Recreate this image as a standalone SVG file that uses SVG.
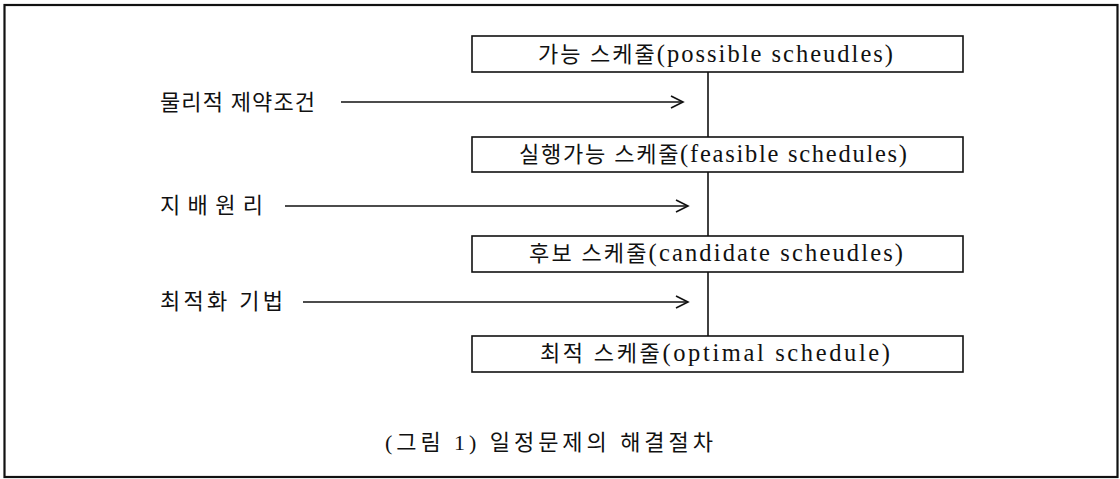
<svg xmlns="http://www.w3.org/2000/svg" width="1120" height="479" viewBox="0 0 1120 479">
<style>
.frame{fill:none;stroke:#111;stroke-width:2.2}
.box{fill:#fff;stroke:#111;stroke-width:1.6}
.ln{stroke:#111;stroke-width:1.6;fill:none}
.t{font-family:"Liberation Serif","Noto Sans CJK KR",serif;font-size:22px;fill:#111}
.lat{font-size:24.5px}
</style>
<defs>
<marker id="ah" markerWidth="16" markerHeight="14" refX="14" refY="7" orient="auto" markerUnits="userSpaceOnUse">
<polyline points="2,1 14,7 2,13" fill="none" stroke="#111" stroke-width="1.6"/>
</marker>
</defs>
<rect class="frame" x="4.5" y="5" width="1113" height="472"/>
<g id="connectors">
<line class="ln" x1="708" y1="72" x2="708" y2="336"/>
<line class="ln" x1="341" y1="102" x2="683" y2="102" marker-end="url(#ah)"/>
<line class="ln" x1="285" y1="206" x2="688" y2="206" marker-end="url(#ah)"/>
<line class="ln" x1="303" y1="302" x2="688" y2="302" marker-end="url(#ah)"/>
</g>
<g id="n1"><rect class="box" x="472" y="36" width="491" height="36"/><text class="t" x="538" y="62" textLength="355" lengthAdjust="spacing">가능 스케줄<tspan class="lat">(possible scheudles)</tspan></text></g>
<g id="n2"><rect class="box" x="472" y="137" width="491" height="35"/><text class="t" x="519" y="162" textLength="388" lengthAdjust="spacing">실행가능 스케줄<tspan class="lat">(feasible schedules)</tspan></text></g>
<g id="n3"><rect class="box" x="472" y="236" width="491" height="36"/><text class="t" x="529" y="261" textLength="374" lengthAdjust="spacing">후보 스케줄<tspan class="lat">(candidate scheudles)</tspan></text></g>
<g id="n4"><rect class="box" x="472" y="336" width="491" height="36"/><text class="t" x="540" y="361" textLength="350" lengthAdjust="spacing">최적 스케줄<tspan class="lat">(optimal schedule)</tspan></text></g>
<g id="l1"><text class="t" x="160" y="110" textLength="155" lengthAdjust="spacing">물리적 제약조건</text></g>
<g id="l2"><text class="t" x="160" y="213" textLength="103" lengthAdjust="spacing">지배원리</text></g>
<g id="l3"><text class="t" x="160" y="309" textLength="123" lengthAdjust="spacing">최적화 기법</text></g>
<g id="caption"><text class="t" x="385" y="450" textLength="328" lengthAdjust="spacing">(그림 1) 일정문제의 해결절차</text></g>
</svg>
